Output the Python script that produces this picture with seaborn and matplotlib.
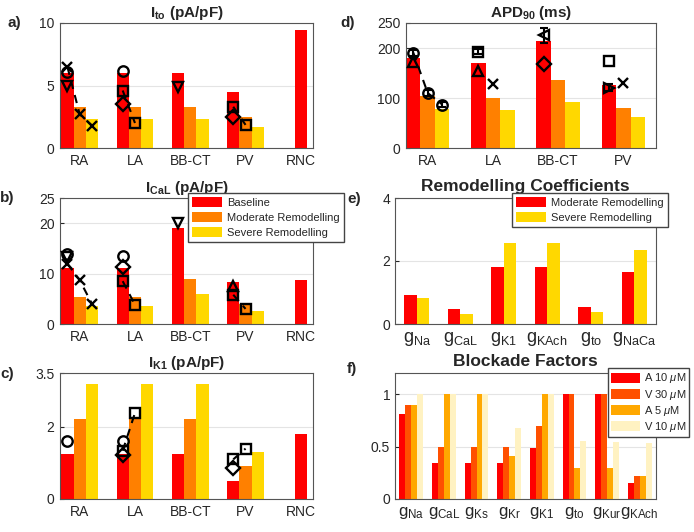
import matplotlib
matplotlib.use('Agg')
import matplotlib.pyplot as plt
from matplotlib.patches import Patch
import numpy as np
import pandas as pd
import seaborn as sns

nan = np.nan

# ---- data -----------------------------------------------------------------
regions = ['RA', 'LA', 'BB-CT', 'PV', 'RNC']
apd_regions = ['RA', 'LA', 'BB-CT', 'PV']
conditions = ['Baseline', 'Moderate Remodelling', 'Severe Remodelling']

ito_base = [6.0, 6.0, 6.0, 4.45]
ito_mod = [3.25, 3.25, 3.25, 2.45]
ito_sev = [2.3, 2.3, 2.3, 1.72]
ito_rnc = 9.42

ical_base = [11.2, 11.2, 19.0, 8.4]
ical_mod = [5.3, 5.3, 9.0, 4.0]
ical_sev = [3.6, 3.6, 5.95, 2.65]
ical_rnc = 8.75

ik1_base = [1.24, 1.24, 1.24, 0.5]
ik1_mod = [2.23, 2.23, 2.23, 0.92]
ik1_sev = [3.19, 3.19, 3.19, 1.31]
ik1_rnc = 1.8

apd_base = [180, 171, 214, 127]
apd_mod = [105, 101, 136, 80]
apd_sev = [78, 76, 93, 63]

# experimental points: (region, marker, [baseline, moderate, severe])
ito_exp = [
    ('RA', 'x', [6.5, 2.7, 1.8]),
    ('RA', 'o', [6.1, nan, nan]),
    ('RA', 'v', [5.0, nan, nan]),
    ('LA', 'o', [6.15, nan, nan]),
    ('LA', 's', [4.6, 2.0, nan]),
    ('LA', 'D', [3.5, nan, nan]),
    ('BB-CT', 'v', [4.9, nan, nan]),
    ('PV', 's', [3.3, 1.85, nan]),
    ('PV', 'D', [2.5, nan, nan]),
]
ical_exp = [
    ('RA', 'x', [12.0, 8.7, 4.0]),
    ('RA', 'o', [13.9, nan, nan]),
    ('RA', 'v', [13.2, nan, nan]),
    ('LA', 'o', [13.5, nan, nan]),
    ('LA', 'D', [11.3, nan, nan]),
    ('LA', 's', [8.5, 3.8, nan]),
    ('BB-CT', 'v', [20.0, nan, nan]),
    ('PV', '^', [7.6, nan, nan]),
    ('PV', 's', [5.8, 3.0, nan]),
]
ik1_exp = [
    ('RA', 'o', [1.61, nan, nan]),
    ('LA', 'o', [1.61, nan, nan]),
    ('LA', 's', [1.34, 2.39, nan]),
    ('LA', 'D', [1.22, nan, nan]),
    ('PV', 's', [1.1, 1.4, nan]),
    ('PV', 'D', [0.85, nan, nan]),
]
apd_exp = [
    ('RA', 'o', [191, 110, 87]),
    ('RA', '^', [172, nan, nan]),
    ('LA', 's', [193, nan, nan]),
    ('LA', '^', [155, nan, nan]),
    ('LA', 'x', [nan, 128, nan]),
    ('BB-CT', '<', [226, nan, nan]),
    ('BB-CT', 'D', [168, nan, nan]),
    ('PV', 's', [174, nan, nan]),
    ('PV', '>', [121, nan, nan]),
    ('PV', 'x', [nan, 131, nan]),
]
apd_err = [
    ('RA', 'o', [6, 6, 5]),
    ('LA', 's', [5, nan, nan]),
    ('BB-CT', '<', [15, nan, nan]),
    ('PV', '>', [7, nan, nan]),
]

coef_labels = [r'g$_{\rm Na}$', r'g$_{\rm CaL}$', r'g$_{\rm K1}$',
               r'g$_{\rm KAch}$', r'g$_{\rm to}$', r'g$_{\rm NaCa}$']
coef_mod = [0.91, 0.48, 1.81, 1.81, 0.55, 1.65]
coef_sev = [0.81, 0.32, 2.58, 2.58, 0.39, 2.35]
coef_series = ['Moderate Remodelling', 'Severe Remodelling']

block_labels = [r'g$_{\rm Na}$', r'g$_{\rm CaL}$', r'g$_{\rm Ks}$', r'g$_{\rm Kr}$',
                r'g$_{\rm K1}$', r'g$_{\rm to}$', r'g$_{\rm Kur}$', r'g$_{\rm KAch}$']
block_series = [r'A 10 $\mu$M', r'V 30 $\mu$M', r'A 5 $\mu$M', r'V 10 $\mu$M']
block_a10 = [0.805, 0.346, 0.346, 0.346, 0.49, 1.0, 1.0, 0.15]
block_v30 = [0.896, 0.5, 0.5, 0.5, 0.695, 1.0, 1.0, 0.22]
block_a5 = [0.9, 1.0, 1.0, 0.41, 1.0, 0.3, 0.3, 0.22]
block_v10 = [1.0, 1.0, 1.0, 0.676, 1.0, 0.555, 0.545, 0.535]

cond_colors = ['#ff0000', '#ff8000', '#ffd800']
block_colors = ['#ff0000', '#ff5000', '#ffa800', '#fff2c2']

# ---- style ----------------------------------------------------------------
sns.set_style('whitegrid', rc={
    'axes.edgecolor': '#555555', 'axes.linewidth': 0.7,
    'grid.color': '#e4e4e4', 'grid.linewidth': 0.8,
    'xtick.bottom': True, 'ytick.left': True,
    'xtick.direction': 'in', 'ytick.direction': 'in',
    'xtick.color': '#262626', 'ytick.color': '#262626',
})
plt.rcParams['font.family'] = ['Liberation Sans', 'DejaVu Sans']
plt.rcParams['mathtext.fontset'] = 'custom'
plt.rcParams['mathtext.rm'] = 'Liberation Sans'
plt.rcParams['mathtext.it'] = 'Liberation Sans:italic'
plt.rcParams['mathtext.bf'] = 'Liberation Sans:bold'
plt.rcParams['xtick.major.size'] = 3
plt.rcParams['ytick.major.size'] = 3

W, H = 694, 532
fig = plt.figure(figsize=(W / 100, H / 100), dpi=100)


def add_ax(l, t, r, b):
    return fig.add_axes([l / W, 1 - b / H, (r - l) / W, (b - t) / H])


def region_bars(ax, cats, vals, rnc, exp, xlim, ylim, yticks, ylabels, title, err=None):
    n = len(vals[0])
    df = pd.DataFrame({
        'region': cats[:n] * 3,
        'condition': np.repeat(conditions, n),
        'value': np.concatenate(vals),
    })
    gw = 3 / 4.5
    bw = gw / 3
    sns.barplot(df, x='region', y='value', hue='condition', order=cats,
                hue_order=conditions, palette=cond_colors, width=gw,
                saturation=1, errorbar=None, legend=False, linewidth=0, ax=ax)
    if rnc is not None:
        sns.barplot(x=['RNC'], y=[rnc], order=cats, color=cond_colors[0],
                    width=bw, saturation=1, errorbar=None, linewidth=0, ax=ax)
    for reg, m, v in exp:
        x = cats.index(reg) + (np.arange(3) - 1) * bw
        v = np.array(v, dtype=float)
        ok = ~np.isnan(v)
        ax.plot(x[ok], v[ok], ls=(0, (4, 3)), color='k', lw=1.5, marker=m,
                mfc='none', mec='k', ms=7.5, mew=1.7, zorder=5)
    if err is not None:
        lookup = {(r, m): v for r, m, v in exp}
        for reg, m, e in err:
            x = cats.index(reg) + (np.arange(3) - 1) * bw
            v = np.array(lookup[(reg, m)], dtype=float)
            e = np.array(e, dtype=float)
            ok = ~np.isnan(e)
            ax.errorbar(x[ok], v[ok], yerr=e[ok], fmt='none', ecolor='k',
                        elinewidth=1.5, capsize=3, capthick=1.5, zorder=6)
    ax.set_xlim(*xlim)
    ax.set_ylim(*ylim)
    ax.set_yticks(yticks)
    ax.set_yticklabels(ylabels)
    ax.set_xlabel('')
    ax.set_ylabel('')
    ax.tick_params(labelsize=10, pad=4)
    ax.set_axisbelow(True)
    ax.set_title(title, fontsize=11, fontweight='bold', pad=4)


ax_a = add_ax(60, 23, 313, 148)
region_bars(ax_a, regions, [ito_base, ito_mod, ito_sev], ito_rnc, ito_exp,
            (-0.356, 4.22), (0, 10), [0, 5, 10], ['0', '5', '10'],
            r'$\mathbf{I_{to}}$ (pA/pF)')

ax_b = add_ax(60, 198, 313, 324)
region_bars(ax_b, regions, [ical_base, ical_mod, ical_sev], ical_rnc, ical_exp,
            (-0.356, 4.22), (0, 25), [0, 10, 20, 25], ['0', '10', '20', '25'],
            r'$\mathbf{I_{CaL}}$ (pA/pF)')

ax_c = add_ax(60, 373, 313, 499)
region_bars(ax_c, regions, [ik1_base, ik1_mod, ik1_sev], ik1_rnc, ik1_exp,
            (-0.356, 4.22), (0, 3.5), [0, 2, 3.5], ['0', '2', '3.5'],
            r'$\mathbf{I_{K1}}$ (pA/pF)')

ax_d = add_ax(406, 23, 656, 148)
region_bars(ax_d, apd_regions, [apd_base, apd_mod, apd_sev], None, apd_exp,
            (-0.333, 3.5), (0, 250), [0, 100, 200, 250], ['0', '100', '200', '250'],
            r'$\mathbf{APD_{90}}$ (ms)', err=apd_err)

leg_handles = [Patch(facecolor=c, edgecolor='none') for c in cond_colors]
ax_b.legend(leg_handles, conditions, loc='upper left',
            bbox_to_anchor=(188 / W, 1 - 193 / H), bbox_transform=fig.transFigure,
            borderaxespad=0, fontsize=8, frameon=True, fancybox=False,
            framealpha=1, edgecolor='#444444', handlelength=2.7,
            handleheight=1.0, labelspacing=0.4, borderpad=0.35,
            handletextpad=0.5)

# e) remodelling coefficients
ax_e = add_ax(395, 198, 656, 324)
df_e = pd.DataFrame({
    'g': coef_labels * 2,
    'series': np.repeat(coef_series, len(coef_labels)),
    'value': coef_mod + coef_sev,
})
sns.barplot(df_e, x='g', y='value', hue='series', order=coef_labels,
            hue_order=coef_series, palette=[cond_colors[0], cond_colors[2]],
            width=2 / 3.5, saturation=1, errorbar=None, linewidth=0, ax=ax_e)
ax_e.set_xlim(-0.5, 5.5)
ax_e.set_ylim(0, 4)
ax_e.set_yticks([0, 2, 4])
ax_e.set_yticklabels(['0', '2', '4'])
ax_e.set_xlabel('')
ax_e.set_ylabel('')
ax_e.tick_params(axis='y', labelsize=10)
ax_e.tick_params(axis='x', labelsize=13, pad=4)
ax_e.set_axisbelow(True)
ax_e.set_title('Remodelling Coefficients', fontsize=12.5, fontweight='bold', pad=5)
ax_e.legend(loc='upper left', bbox_to_anchor=(512 / W, 1 - 193 / H),
            bbox_transform=fig.transFigure, borderaxespad=0, fontsize=8,
            frameon=True, fancybox=False, framealpha=1, edgecolor='#444444',
            handlelength=2.7, handleheight=1.0, labelspacing=0.4,
            borderpad=0.35, handletextpad=0.5, title=None)

# f) blockade factors
ax_f = add_ax(395, 373, 656, 499)
df_f = pd.DataFrame({
    'g': block_labels * 4,
    'drug': np.repeat(block_series, len(block_labels)),
    'value': block_a10 + block_v30 + block_a5 + block_v10,
})
sns.barplot(df_f, x='g', y='value', hue='drug', order=block_labels,
            hue_order=block_series, palette=block_colors, width=4 / 5.5,
            saturation=1, errorbar=None, linewidth=0, ax=ax_f)
ax_f.set_xlim(-0.5, 7.5)
ax_f.set_ylim(0, 1.2)
ax_f.set_yticks([0, 0.5, 1])
ax_f.set_yticklabels(['0', '0.5', '1'])
ax_f.set_xlabel('')
ax_f.set_ylabel('')
ax_f.tick_params(axis='y', labelsize=10)
ax_f.tick_params(axis='x', labelsize=12, pad=4)
ax_f.set_axisbelow(True)
ax_f.set_title('Blockade Factors', fontsize=12.5, fontweight='bold', pad=5)
ax_f.legend(loc='upper left', bbox_to_anchor=(608 / W, 1 - 368 / H),
            bbox_transform=fig.transFigure, borderaxespad=0, fontsize=8,
            frameon=True, fancybox=False, framealpha=1, edgecolor='#444444',
            handlelength=2.6, handleheight=1.0, labelspacing=0.2,
            borderpad=0.3, handletextpad=0.3, title=None)

# panel letters
for lbl, x, y in [('a)', 7, 23), ('b)', 0, 198), ('c)', 0, 374),
                  ('d)', 340, 23), ('e)', 347, 199), ('f)', 347, 369)]:
    fig.text(x / W, 1 - y / H, lbl, fontsize=11, fontweight='bold', va='center')

fig.savefig('out.png', dpi=100)
